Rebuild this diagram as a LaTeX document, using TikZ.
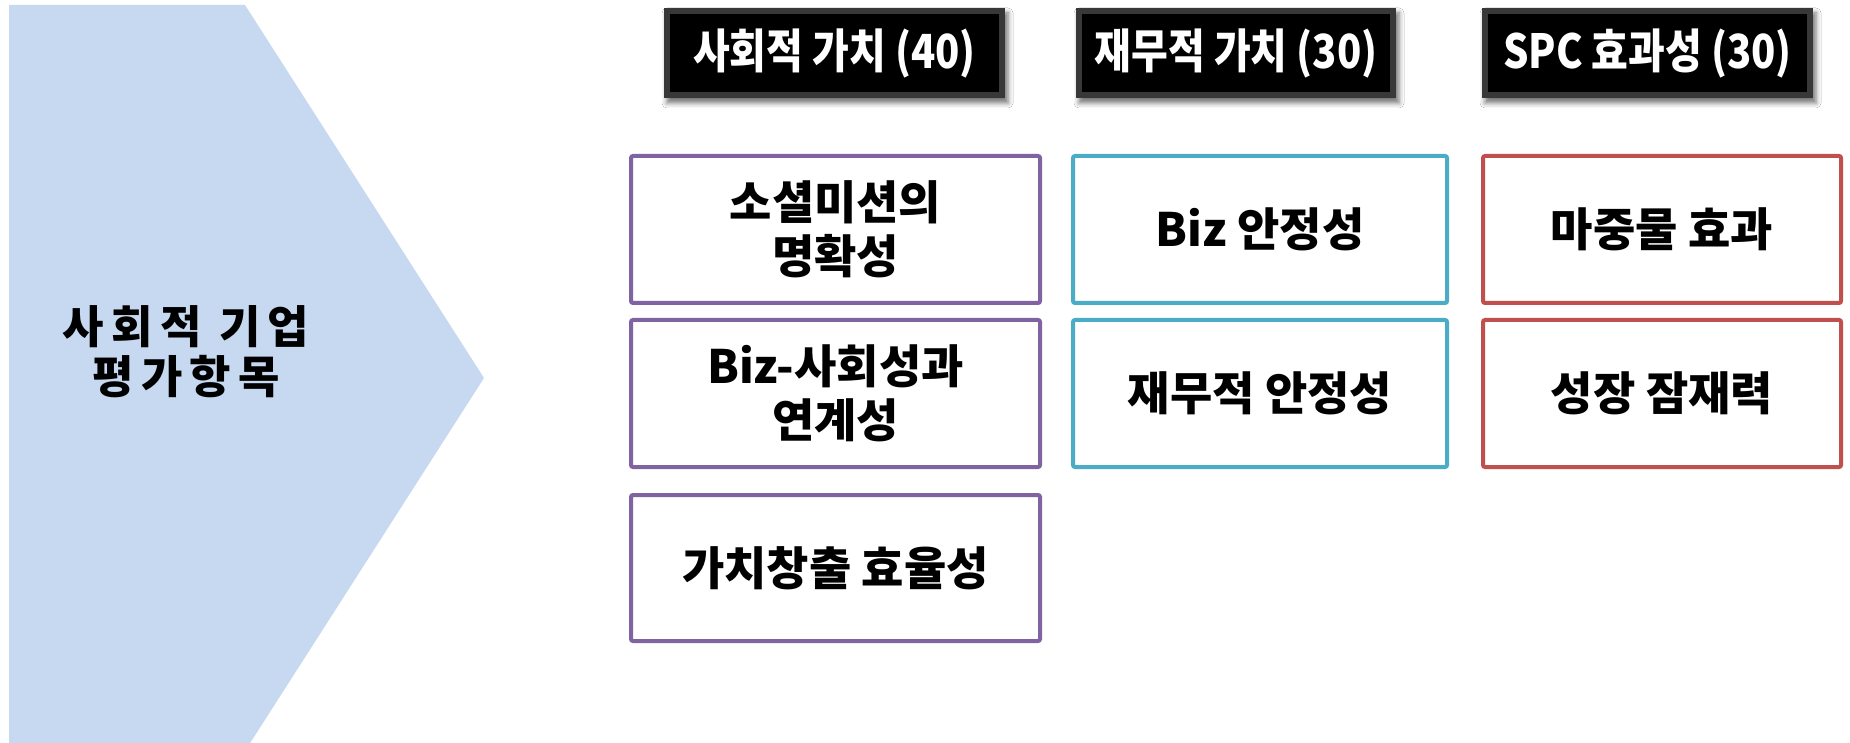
\documentclass[tikz,border=0pt]{standalone}
\usepackage{fontspec}
\setmainfont{Noto Sans CJK KR}
\usepackage{graphicx}
\usetikzlibrary{shadows.blur}
\definecolor{pent}{HTML}{C6D9F0}
\definecolor{cpurple}{HTML}{8064A2}
\definecolor{cteal}{HTML}{4BACC6}
\definecolor{cred}{HTML}{C0504D}
\tikzset{
  hdr/.style={fill=black!78, draw=none, text=white, inner sep=0pt,
    minimum height=90pt,
    font=\bfseries\fontsize{47}{50}\selectfont,
    blur shadow={shadow xshift=3pt, shadow yshift=-5pt, shadow blur radius=5pt, shadow opacity=55},
    path picture={\fill[black] ([xshift=6pt,yshift=-6pt]path picture bounding box.north west) rectangle ([xshift=-6pt,yshift=6pt]path picture bounding box.south east);}},
  itembox/.style={draw=#1, line width=4pt, fill=white, rounded corners=2pt,
    align=center, inner sep=0pt,
    font=\bfseries\fontsize{46}{54}\selectfont},
  lefttext/.style={align=center, inner sep=0pt, font=\bfseries\fontsize{45}{50}\selectfont\addfontfeature{LetterSpace=16}}
}
\newcommand{\hx}[1]{\scalebox{0.85}[1]{#1}}
\begin{document}
\begin{tikzpicture}[x=1pt,y=-1pt]
\useasboundingbox (0,0) rectangle (1850,743);
\fill[white] (0,0) rectangle (1850,743);
\begin{scope}
\clip (0,0) rectangle (1850,743);
\fill[pent] (9,5) -- (245,5) -- (484,378) -- (245,751) -- (9,751) -- cycle;
\end{scope}
\node[lefttext] (title) at (186,352) {사회적 기업\\평가항목};

\node[hdr, minimum width=341pt] (h1) at (834.5,53) {\hx{사회적 가치 (40)}};
\node[hdr, minimum width=320pt] (h2) at (1236,53) {\hx{재무적 가치 (30)}};
\node[hdr, minimum width=331pt] (h3) at (1647.5,53) {\hx{SPC 효과성 (30)}};

\node[itembox=cpurple, minimum width=409pt, minimum height=147pt] (s1) at (835.5,229.5) {소셜미션의\\명확성};
\node[itembox=cpurple, minimum width=409pt, minimum height=147pt] (s2) at (835.5,393.5) {Biz-사회성과\\연계성};
\node[itembox=cpurple, minimum width=409pt, minimum height=146pt] (s3) at (835.5,568) {가치창출 효율성};

\node[itembox=cteal, minimum width=374pt, minimum height=147pt] (f1) at (1260,229.5) {Biz 안정성};
\node[itembox=cteal, minimum width=374pt, minimum height=147pt] (f2) at (1260,393.5) {재무적 안정성};

\node[itembox=cred, minimum width=358pt, minimum height=147pt] (p1) at (1662,229.5) {마중물 효과};
\node[itembox=cred, minimum width=358pt, minimum height=147pt] (p2) at (1662,393.5) {성장 잠재력};
\end{tikzpicture}
\end{document}
